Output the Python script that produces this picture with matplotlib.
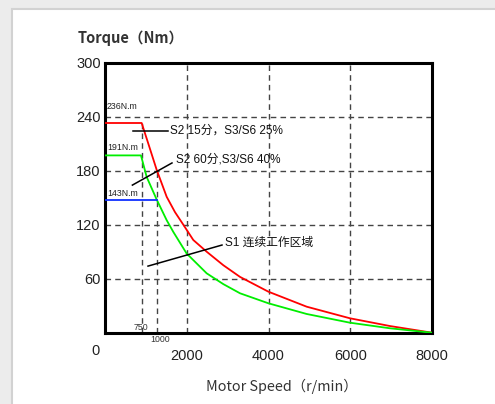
import numpy as np
import matplotlib
matplotlib.use("Agg")
import matplotlib.pyplot as plt
from matplotlib.patches import Rectangle

plt.rcParams['font.family'] = ['Liberation Sans', 'Noto Sans CJK SC', 'DejaVu Sans']

# curves (speed r/min, torque Nm)
red_speed = [0, 897, 1060, 1264, 1509, 1712, 1916, 2160, 2487, 2894, 3303, 3996, 4934, 5994, 6972, 8000]
red_torque = [233, 233, 210, 181, 151, 134, 120, 103, 90, 75, 62, 45.6, 28.9, 16, 7.4, 0]
green_speed = [0, 880, 1020, 1264, 1509, 1671, 1997, 2487, 2894, 3303, 3996, 4934, 5994, 6972, 8000]
green_torque = [197, 197, 173, 148, 125, 112, 88, 66, 54, 43.8, 32.7, 20.8, 11.1, 4.9, 0]
blue_speed = [0, 1264]
blue_torque = [147, 147]

peak_labels = ['236N.m', '191N.m', '143N.m']
peak_label_y = [251, 206, 155]

yticks = [60, 120, 180, 240, 300]
xticks = [2000, 4000, 6000, 8000]
vgrid = [900, 1264, 2000, 4000, 6000]
vgrid_top = [233, 180, 300, 300, 300]

fig = plt.figure(figsize=(4.95, 4.04), dpi=100, facecolor='#ececec')
fig.patches.append(Rectangle((12 / 495, -0.1), 1.1, 1 - 9 / 404 + 0.1,
                             transform=fig.transFigure, facecolor='white',
                             edgecolor='#d2d2d2', lw=1.5, zorder=-5))

ax = fig.add_axes([105 / 495, 71.3 / 404, 327 / 495, 270 / 404])
ax.set_zorder(2)
ax.set_facecolor('white')
ax.set_xlim(0, 8000)
ax.set_ylim(0, 300)

dash = (0, (4, 3))
for y in yticks[:-1]:
    ax.axhline(y, color='#444444', lw=1, ls=dash, zorder=1)
for x, top in zip(vgrid, vgrid_top):
    ax.vlines(x, 0, top, color='#444444', lw=1, ls=dash, zorder=1)

ax.plot(red_speed, red_torque, color='#ff0000', lw=1.3, zorder=3)
ax.plot(green_speed, green_torque, color='#00ee00', lw=1.3, zorder=3)
ax.plot(blue_speed, blue_torque, color='#1030ff', lw=1.3, zorder=3)

for lab, y in zip(peak_labels, peak_label_y):
    ax.text(45, y, lab, fontsize=6.3, color='#222222', va='center', ha='left')
ax.text(880, 6, '750', fontsize=6.3, color='#333333', ha='center', va='center')
ax.text(1345, -7, '1000', fontsize=6.3, color='#333333', ha='center', va='center', clip_on=False)

# annotations
ax.plot([685, 1541], [224, 224], color='black', lw=1.1, zorder=4)
ax.text(1590, 224, 'S2 15分，S3/S6 25%', fontsize=8.5, va='center', ha='left', color='#111111')
ax.plot([670, 1639], [164, 188.6], color='black', lw=1.1, zorder=4)
ax.text(1740, 193, 'S2 60分,S3/S6 40%', fontsize=8.5, va='center', ha='left', color='#111111')
ax.plot([1052, 2862], [74, 97.4], color='black', lw=1.1, zorder=4)
ax.text(2940, 100, 'S1 连续工作区域', fontsize=8.5, va='center', ha='left', color='#111111')

for s in ax.spines.values():
    s.set_linewidth(2.2)
    s.set_color('black')

ax.set_yticks(yticks)
ax.set_xticks(xticks)
ax.tick_params(length=0, labelsize=10.5, labelcolor='#222222')
ax.tick_params(axis='x', pad=12)
ax.tick_params(axis='y', pad=3)
ax.text(-230, -20, '0', fontsize=10.5, color='#222222', ha='center', va='center', clip_on=False)

fig.text(78 / 495, 1 - 37.7 / 404, 'Torque（Nm）', fontsize=10.5, fontweight='bold',
         family=['Noto Sans CJK SC', 'DejaVu Sans'], color='#333333', ha='left', va='center')
fig.text(281.7 / 495, 1 - 386 / 404, 'Motor Speed（r/min）', fontsize=10.3,
         family=['Noto Sans CJK SC', 'DejaVu Sans'], color='#333333', ha='center', va='center')

fig.savefig('out.png', dpi=100, facecolor=fig.get_facecolor())
